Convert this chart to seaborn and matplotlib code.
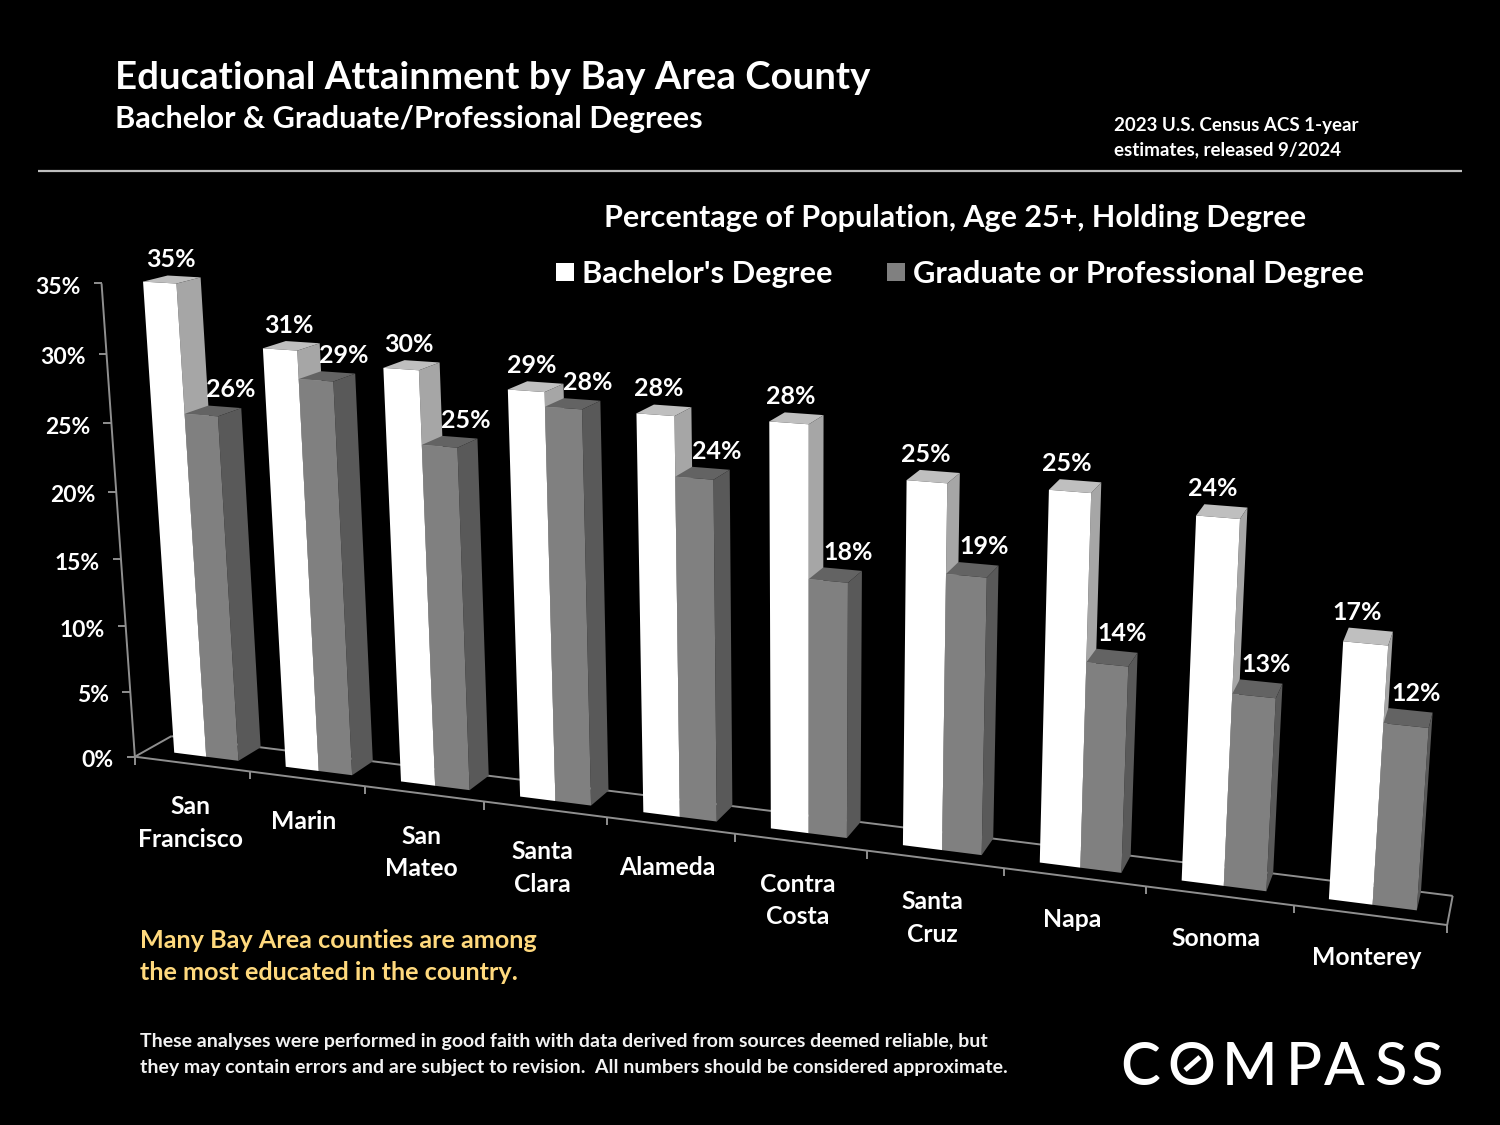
"""Educational attainment by Bay Area county: 3D-look grouped bars on a black slide."""
import matplotlib
matplotlib.use("Agg")
import matplotlib.pyplot as plt
import numpy as np
import pandas as pd
import seaborn as sns
from matplotlib.patches import Polygon, Rectangle
from matplotlib.transforms import Affine2D, Transform

counties = ["San\nFrancisco", "Marin", "San\nMateo", "Santa\nClara", "Alameda",
            "Contra\nCosta", "Santa\nCruz", "Napa", "Sonoma", "Monterey"]
bachelor = [35.0, 30.8, 30.0, 29.1, 28.1, 28.2, 25.0, 25.1, 24.2, 17.0]
graduate = [25.7, 28.8, 24.8, 28.1, 24.0, 17.8, 19.0, 14.0, 12.9, 12.0]
series_names = ["Bachelor's Degree", "Graduate or Professional Degree"]
y_ticks = [0, 5, 10, 15, 20, 25, 30, 35]

BAR_WIDTH = 0.58
FRONT_COLORS = ["#ffffff", "#808080"]
SIDE_COLORS = ["#a6a6a6", "#595959"]
TOP_COLORS = ["#bfbfbf", "#636363"]
LINE_COLOR = "#8f8f8f"
W, H_PX = 1500, 1125

# camera calibration: (category position, percent) -> slide pixel
hw = BAR_WIDTH / 2
calib = [
    (-hw, 0, 175.0, 752.7), (-hw, 35.0, 143.3, 281.7),
    (hw, 0, 238.3, 761.0), (hw, 25.7, 218.3, 412.7),
    (4 - hw, 0, 643.0, 814.0), (4 - hw, 28.1, 635.7, 415.0),
    (5 - hw, 0, 770.0, 829.0), (5 - hw, 28.2, 768.3, 423.3),
    (8 - hw, 0, 1181.7, 880.0), (8 - hw, 24.2, 1197.0, 517.0),
    (9 - hw, 0, 1329.3, 899.3), (9 - hw, 17.0, 1344.0, 640.0),
    (9 + hw, 0, 1416.7, 909.3), (9 + hw, 12.0, 1428.3, 726.7),
]
DEPTH_VP = np.array([1640.0, -90.0, 1.0])  # vanishing point of the depth axis
DEPTH_K = 0.016
Z_FRONT, Z_BACK = -0.55, 1.0


def fit_homography(points):
    rows, rhs = [], []
    for u, v, x, y in points:
        rows.append([u, v, 1, 0, 0, 0, -u * x, -v * x])
        rows.append([0, 0, 0, u, v, 1, -u * y, -v * y])
        rhs += [x, y]
    sol = np.linalg.lstsq(np.array(rows), np.array(rhs), rcond=None)[0]
    return np.append(sol, 1.0).reshape(3, 3)


HOMOG = fit_homography(calib)


class PlaneToSlide(Transform):
    input_dims = output_dims = 2

    def transform_non_affine(self, values):
        values = np.asarray(values, dtype=float)
        pts = np.c_[values, np.ones(len(values))] @ HOMOG.T
        return pts[:, :2] / pts[:, 2:]


def project(u, v, z=0.0):
    p = HOMOG @ np.array([u, v, 1.0]) + z * DEPTH_K * DEPTH_VP
    return p[:2] / p[2]


sns.set_theme(style="dark")
plt.rcParams["font.family"] = ["Lato", "DejaVu Sans"]
plt.rcParams["savefig.facecolor"] = "black"

df = pd.DataFrame({
    "county": counties * 2,
    "degree": [series_names[0]] * len(counties) + [series_names[1]] * len(counties),
    "pct": bachelor + graduate,
})

fig, ax = plt.subplots(figsize=(W / 100, H_PX / 100), dpi=100, facecolor="black")
ax.set_position([0, 0, 1, 1])
sns.barplot(data=df, x="county", y="pct", hue="degree", hue_order=series_names,
            palette=FRONT_COLORS, width=BAR_WIDTH, gap=0, saturation=1,
            legend=False, linewidth=0, edgecolor="none", ax=ax)
ax.set_xlim(-0.5, 9.5)
ax.set_ylim(0, 35)
ax.set_axis_off()

page = Affine2D().scale(1, -1).translate(0, H_PX)
front_tf = PlaneToSlide() + page


def label(x, y, s, size, color="white", weight="bold", ha="left", va="center", **kw):
    return ax.text(x, y + 2, s, fontsize=size, color=color, fontweight=weight, ha=ha, va=va,
                   transform=page, clip_on=False, zorder=60, **kw)


def seg(p0, p1, color=LINE_COLOR, lw=1.4, zorder=2):
    ax.plot([p0[0], p1[0]], [p0[1], p1[1]], color=color, lw=lw, transform=page,
            clip_on=False, zorder=zorder, solid_capstyle="butt", scalex=False, scaley=False)


# floor and axes
U0, U1 = -0.53, 9.5
seg(project(U0, 0, Z_FRONT), project(U1, 0, Z_FRONT))
seg(project(U0, 0, Z_BACK), project(U1, 0, Z_BACK))
seg(project(U0, 0, Z_FRONT), project(U0, 0, Z_BACK))
seg(project(U1, 0, Z_FRONT), project(U1, 0, Z_BACK))
seg(project(U0, 0, Z_FRONT), project(U0, y_ticks[-1], Z_FRONT))
for t in y_ticks:
    px = project(U0, t, Z_FRONT)
    seg(px, px + np.array([-8, 0]))
    label(px[0] - 21, px[1] + 2, f"{t}%", 16.5, ha="right")
for i in range(len(counties) + 1):
    px = project(i - 0.5 if i else U0, 0, Z_FRONT)
    seg(px, px + np.array([0, 8]))

# bars: the seaborn rectangles are the front faces, depth faces are added around them
for s, container in enumerate(ax.containers):
    for i, bar in enumerate(container):
        order = 10 + 3 * i + s * 1.5
        x0, x1 = bar.get_x(), bar.get_x() + bar.get_width()
        top = bar.get_height()
        side = [project(x1, 0), project(x1, top), project(x1, top, 1), project(x1, 0, 1)]
        cap = [project(x0, top), project(x1, top), project(x1, top, 1), project(x0, top, 1)]
        ax.add_patch(Polygon(side, closed=True, fc=SIDE_COLORS[s], ec="none", transform=page,
                             clip_on=False, zorder=order))
        ax.add_patch(Polygon(cap, closed=True, fc=TOP_COLORS[s], ec="none", transform=page,
                             clip_on=False, zorder=order))
        bar.set_transform(front_tf)
        bar.set_clip_on(False)
        bar.set_zorder(order + 0.5)
        anchor = project((x0 + x1) / 2, top, 1.0)
        shift = (-13.5, -19) if s == 0 else (5.5, -19)
        label(anchor[0] + shift[0], anchor[1] + shift[1], f"{top:.0f}%", 18, ha="center")

# county names hang from their first line, following the floor edge
for i, name in enumerate(counties):
    px = project(i, 0, Z_FRONT)
    label(px[0] - 3, px[1] + 29, name, 17.8, ha="center", va="top", linespacing=1.49,
          multialignment="center")

# header
label(115, 76, "Educational Attainment by Bay Area County", 27.6)
label(115, 117, "Bachelor & Graduate/Professional Degrees", 22.1)
label(1114, 124, "2023 U.S. Census ACS 1-year", 13.5)
label(1114, 148, "estimates, released 9/2024", 13.5)
seg((38, 171), (1462, 171), color="#bfbfbf", lw=1.6)

# legend
label(604, 216, "Percentage of Population, Age 25+, Holding Degree", 22)
for sx, color, tx, name in zip([556, 887], FRONT_COLORS, [582, 913], series_names):
    ax.add_patch(Rectangle((sx, 263), 18, 18, fc=color, ec="none", transform=page, clip_on=False))
    label(tx, 272, name, 22.2)

# notes
label(140, 939, "Many Bay Area counties are among", 18.2, color="#ffd97d")
label(140, 971, "the most educated in the country.", 18.2, color="#ffd97d")
label(140, 1040, "These analyses were performed in good faith with data derived from sources deemed reliable, but", 14.03, color="#f2f2f2")
label(140, 1066, "they may contain errors and are subject to revision.  All numbers should be considered approximate.", 14.03, color="#f2f2f2")

# logo
for cx, ch in zip([1140, 1191.5, 1249.5, 1304, 1344, 1390, 1426], "COMPASS"):
    label(cx, 1061, ch, 43, weight="medium", ha="center", va="center_baseline")
seg((1185, 1070), (1200, 1057), color="white", lw=3.5, zorder=61)

fig.savefig("out.png", dpi=100, facecolor="black")
